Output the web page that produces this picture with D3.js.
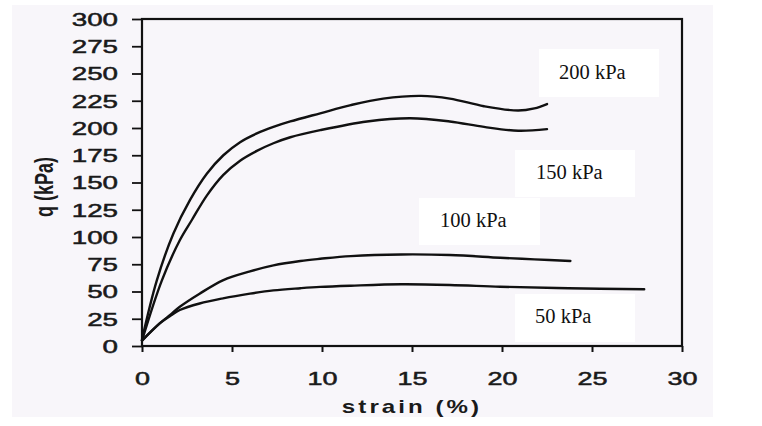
<!DOCTYPE html>
<html>
<head>
<meta charset="utf-8">
<script src="https://cdn.jsdelivr.net/npm/d3@7"></script>
<style>
  html, body { margin: 0; padding: 0; background: #ffffff; }
  svg { display: block; }
</style>
</head>
<body>
<svg id="chart" width="762" height="426"></svg>
<script>
// Deviatoric stress q vs axial strain for four confining pressures
const seriesNames = ["200 kPa", "150 kPa", "100 kPa", "50 kPa"];

const strain200 = [0, 0.82, 1.74, 2.67, 3.6, 4.52, 5.45, 6.38, 7.3, 8.24, 9.9, 11.6, 13.4, 15.5, 17.1, 19, 20.9, 21.8, 22.5];
const q200      = [6, 60, 103, 134, 158, 175, 187, 195, 201, 206, 213.5, 221, 227, 229.5, 227, 220, 216, 218, 222];

const strain150 = [0, 1.1, 2.1, 2.77, 3.6, 4.52, 5.45, 6.38, 7.3, 8.24, 9.9, 12.5, 14.9, 17.1, 19, 20.9, 22.5];
const q150      = [5, 60, 97, 115.6, 138, 157, 170, 179, 186, 191.5, 198, 206, 209, 206, 201, 197.5, 199];

const strain100 = [0, 1, 1.6, 2.1, 3.2, 4.52, 6, 7.3, 8.8, 9.9, 11.6, 14.4, 17.1, 19.9, 21.8, 23.8];
const q100      = [5, 21, 29, 36, 48, 60.5, 68.5, 74, 78, 80, 82.5, 84, 83.5, 81, 79.5, 78];

const strain50  = [0, 1, 1.6, 2.1, 3.2, 4.5, 6, 7.3, 8.8, 9.9, 11.6, 14.4, 17.1, 19.9, 23.7, 27.9];
const q50       = [5, 21, 28, 33, 39, 43.7, 48, 51, 53, 54.2, 55.3, 56.6, 56, 54.4, 53, 52];

const xTicks = [0, 5, 10, 15, 20, 25, 30];
const yTicks = [0, 25, 50, 75, 100, 125, 150, 175, 200, 225, 250, 275, 300];

const svg = d3.select("#chart");

// scanned-page backdrop
svg.append("rect").attr("x", 12).attr("y", 5).attr("width", 701).attr("height", 412)
  .attr("fill", "#f8f6fa");

const x = d3.scaleLinear().domain([0, 30]).range([142, 682]);
const y = d3.scaleLinear().domain([0, 300]).range([346, 19]);

const tickFont = "'Liberation Sans', Arial, sans-serif";

// y axis
const gy = svg.append("g").attr("transform", `translate(${x(0)},0)`)
  .call(d3.axisLeft(y).tickValues(yTicks).tickSize(10).tickSizeOuter(0).tickFormat(d3.format("d")));
gy.select(".domain").remove();
gy.selectAll(".tick line").attr("stroke", "#111").attr("stroke-width", 1.8);
gy.selectAll(".tick text")
  .attr("x", null).attr("dy", null)
  .attr("text-anchor", "end")
  .attr("dominant-baseline", "central")
  .attr("transform", "translate(-24,0) scale(1.5,1)")
  .attr("font-size", 18.5).attr("fill", "#1a1a1a")
  .attr("stroke", "#1a1a1a").attr("stroke-width", 0.5);

// x axis
const gx = svg.append("g").attr("transform", `translate(0,${y(0)})`)
  .call(d3.axisBottom(x).tickValues(xTicks).tickSize(6).tickSizeOuter(0).tickFormat(d3.format("d")));
gx.select(".domain").remove();
gx.selectAll(".tick line").attr("stroke", "#111").attr("stroke-width", 2);
gx.selectAll(".tick text")
  .attr("y", null).attr("dy", null)
  .attr("text-anchor", "middle")
  .attr("transform", "translate(0,38.5) scale(1.5,1)")
  .attr("font-size", 18).attr("fill", "#1a1a1a")
  .attr("stroke", "#1a1a1a").attr("stroke-width", 0.5);
svg.selectAll(".tick text").style("font-family", tickFont);
svg.selectAll("g").filter(function () { return this.hasAttribute("font-family"); })
  .attr("font-family", tickFont);

// plot frame
svg.append("rect")
  .attr("x", x(0)).attr("y", y(300))
  .attr("width", x(30) - x(0)).attr("height", y(0) - y(300))
  .attr("fill", "none").attr("stroke", "#111").attr("stroke-width", 2.2);

// curves
const curves = [
  { name: seriesNames[0], xs: strain200, ys: q200 },
  { name: seriesNames[1], xs: strain150, ys: q150 },
  { name: seriesNames[2], xs: strain100, ys: q100 },
  { name: seriesNames[3], xs: strain50,  ys: q50 }
];
const line = d3.line()
  .x(d => x(d[0])).y(d => y(d[1]))
  .curve(d3.curveCatmullRom.alpha(0.5));
svg.append("g").selectAll("path").data(curves).join("path")
  .attr("d", c => line(c.xs.map((s, i) => [s, c.ys[i]])))
  .attr("fill", "none").attr("stroke", "#111").attr("stroke-width", 2.4)
  .attr("stroke-linecap", "round").attr("stroke-linejoin", "round");

// pressure labels on white boxes
const labelBoxes = [
  { x: 539, y: 49,  w: 120, h: 48, tx: 559, ty: 79 },
  { x: 515, y: 150, w: 120, h: 47, tx: 536, ty: 179 },
  { x: 419, y: 198, w: 121, h: 47, tx: 440, ty: 227 },
  { x: 515, y: 294, w: 120, h: 48, tx: 535, ty: 323 }
];
const lg = svg.append("g").selectAll("g").data(curves).join("g");
lg.append("rect")
  .attr("x", (d, i) => labelBoxes[i].x).attr("y", (d, i) => labelBoxes[i].y)
  .attr("width", (d, i) => labelBoxes[i].w).attr("height", (d, i) => labelBoxes[i].h)
  .attr("fill", "#ffffff");
lg.append("text")
  .attr("x", (d, i) => labelBoxes[i].tx).attr("y", (d, i) => labelBoxes[i].ty)
  .attr("font-family", "'Liberation Serif', 'Times New Roman', serif")
  .attr("font-size", 20.5).attr("fill", "#111")
  .text(d => d.name);

// axis titles
svg.append("text")
  .attr("transform", "translate(412,413) scale(1.38,1)")
  .attr("text-anchor", "middle")
  .attr("font-family", tickFont).attr("font-weight", "bold")
  .attr("font-size", 17.5).attr("letter-spacing", 2.2).attr("fill", "#1a1a1a")
  .text("strain (%)");

svg.append("text")
  .attr("transform", "translate(53,187) rotate(-90) scale(1,1.4)")
  .attr("text-anchor", "middle")
  .attr("font-family", tickFont).attr("font-weight", "bold")
  .attr("font-size", 18).attr("fill", "#1a1a1a")
  .text("q (kPa)");
</script>
</body>
</html>
